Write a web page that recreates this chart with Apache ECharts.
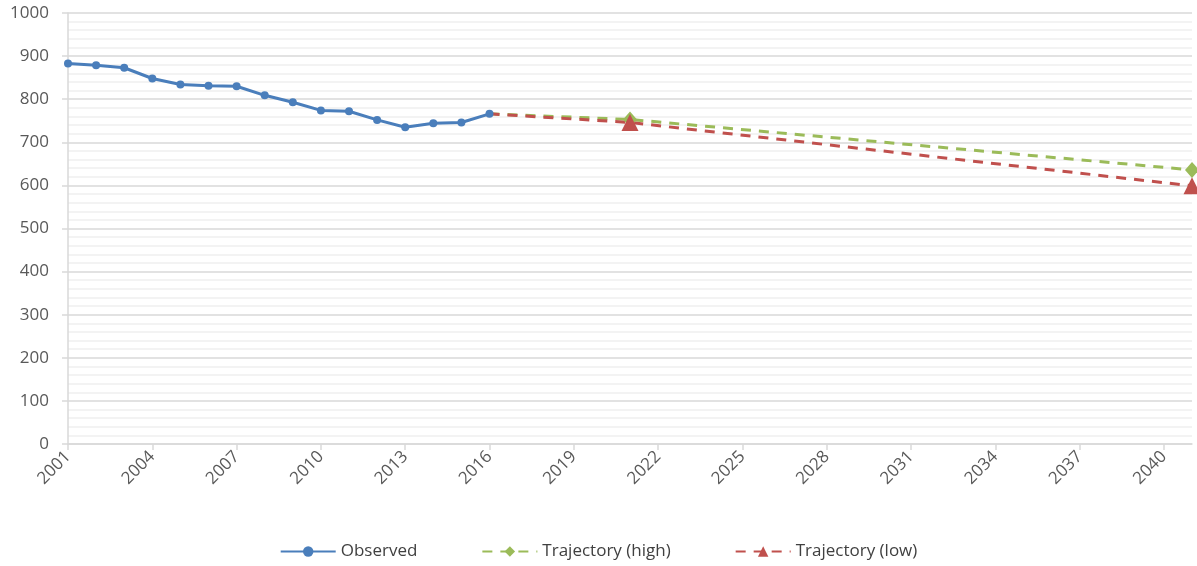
<!DOCTYPE html>
<html>
<head>
<meta charset="utf-8">
<script src="https://cdn.jsdelivr.net/npm/echarts@6/dist/echarts.min.js"></script>
<style>
  html, body { margin: 0; padding: 0; background: #fff; }
  #chart { width: 1197px; height: 566px; }
</style>
</head>
<body>
<div id="chart"></div>
<script>
// years 2001..2041 (last category has no label)
const years = [];
for (let y = 2001; y <= 2041; y++) years.push(String(y));

// observed 2001-2016
const observed = [883, 879, 873, 848, 834, 831, 830, 809, 793, 774, 772, 752, 735, 744, 746, 766];
// trajectory anchor points
const trajYears = ['2016', '2021', '2041'];
const trajHigh = [766, 753, 636];
const trajLow = [766, 746, 599];

const fill = (vals) => years.map(y => {
    const i = trajYears.indexOf(y);
    if (i < 0) return null;
    return i === 0 ? { value: vals[i], symbol: 'none' } : vals[i];
});

const chart = echarts.init(document.getElementById('chart'));
chart.setOption({
    animation: false,
    textStyle: { fontFamily: 'Open Sans, Liberation Sans, sans-serif' },
    grid: { left: 68, right: 5, top: 13, bottom: 122 },
    legend: {
        bottom: 1,
        left: 'center',
        itemWidth: 55,
        itemHeight: 13,
        itemGap: 64,
        textStyle: { color: '#404040', fontSize: 17 },
        data: ['Observed', 'Trajectory (high)', 'Trajectory (low)']
    },
    xAxis: {
        type: 'category',
        data: years,
        boundaryGap: false,
        axisLine: { lineStyle: { color: '#d9d9d9', width: 1.5 } },
        axisTick: { show: true, length: 6, lineStyle: { color: '#d9d9d9', width: 1.5 } },
        axisLabel: {
            interval: (i) => i % 3 === 0 && i < 40,
            rotate: 45, color: '#595959', fontSize: 17, margin: 10
        },
        splitLine: { show: false }
    },
    yAxis: {
        type: 'value',
        min: 0,
        max: 1000,
        interval: 100,
        axisLine: { show: true, lineStyle: { color: '#d9d9d9', width: 1.5 } },
        axisTick: { show: true, length: 6, lineStyle: { color: '#d9d9d9', width: 1.5 } },
        axisLabel: { color: '#595959', fontSize: 17, margin: 19, formatter: (v) => String(v) },
        splitLine: { lineStyle: { color: '#d9d9d9', width: 1.5 } },
        minorTick: { show: false, splitNumber: 5 },
        minorSplitLine: { show: true, lineStyle: { color: '#efefef', width: 1.5 } }
    },
    series: [
        {
            name: 'Observed',
            type: 'line',
            data: observed,
            symbol: 'circle',
            symbolSize: 8,
            z: 5,
            color: '#4a7ebb',
            lineStyle: { width: 3, color: '#4a7ebb' },
            itemStyle: { color: '#4a7ebb' }
        },
        {
            name: 'Trajectory (high)',
            type: 'line',
            data: fill(trajHigh),
            connectNulls: true,
            symbol: 'diamond',
            symbolSize: [14, 16],
            color: '#9bbb59',
            lineStyle: { width: 3, type: [10, 8], color: '#9bbb59' },
            itemStyle: { color: '#9bbb59' }
        },
        {
            name: 'Trajectory (low)',
            type: 'line',
            data: fill(trajLow),
            connectNulls: true,
            symbol: 'triangle',
            symbolSize: 17,
            color: '#c0504d',
            lineStyle: { width: 3, type: [10, 8], color: '#c0504d' },
            itemStyle: { color: '#c0504d' }
        }
    ]
});
</script>
</body>
</html>
